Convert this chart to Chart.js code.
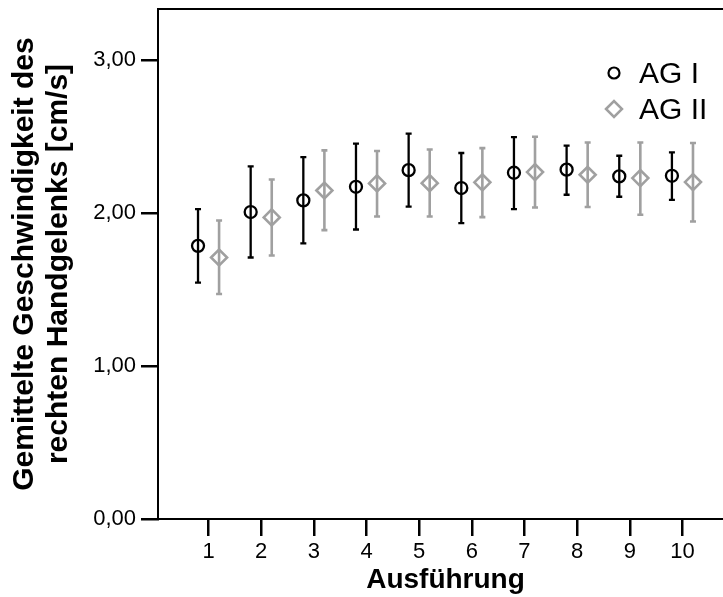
<!DOCTYPE html>
<html lang="de">
<head>
<meta charset="UTF-8">
<title>Gemittelte Geschwindigkeit des rechten Handgelenks</title>
<script src="https://cdn.jsdelivr.net/npm/chart.js"></script>
<style>
  html, body { margin: 0; padding: 0; background: #fff; overflow: hidden; }
  canvas { display: block; }
</style>
</head>
<body>
<canvas id="grafica" width="734" height="597"></canvas>
<script>
// Ausfuehrung 1..10, Mittelwert und Fehlerbalken
const ausfuehrung = [1, 2, 3, 4, 5, 6, 7, 8, 9, 10];
const xTicks = ['1', '2', '3', '4', '5', '6', '7', '8', '9', '10'];
const yTicks = ['0,00', '1,00', '2,00', '3,00'];

const ag1Mittel = [1.785, 2.006, 2.082, 2.171, 2.280, 2.163, 2.263, 2.283, 2.239, 2.243];
const ag1Unten  = [1.545, 1.709, 1.801, 1.892, 2.041, 1.934, 2.025, 2.119, 2.106, 2.086];
const ag1Oben   = [2.025, 2.304, 2.365, 2.453, 2.518, 2.392, 2.496, 2.440, 2.374, 2.396];

const ag2Mittel = [1.709, 1.971, 2.147, 2.193, 2.195, 2.200, 2.267, 2.250, 2.228, 2.202];
const ag2Unten  = [1.470, 1.722, 1.888, 1.977, 1.977, 1.973, 2.036, 2.039, 1.988, 1.944];
const ag2Oben   = [1.951, 2.219, 2.409, 2.405, 2.415, 2.424, 2.498, 2.461, 2.461, 2.457];

const schrift = 'Liberation Sans, Arial, Helvetica, sans-serif';
const grau = '#a0a0a0';

function punkte(mittel, versatz) {
  return ausfuehrung.map((a, i) => ({ x: a + versatz, y: mittel[i] }));
}

// Fehlerbalken hinter den Markern
const fehlerbalken = {
  id: 'fehlerbalken',
  beforeDatasetsDraw(chart) {
    const ctx = chart.ctx;
    const y = chart.scales.y;
    const grenzen = [[ag1Unten, ag1Oben], [ag2Unten, ag2Oben]];
    chart.data.datasets.forEach((ds, d) => {
      const meta = chart.getDatasetMeta(d);
      ctx.save();
      ctx.strokeStyle = ds.borderColor;
      ctx.lineWidth = d === 0 ? 2.3 : 2.6;
      meta.data.forEach((p, i) => {
        const yu = y.getPixelForValue(grenzen[d][0][i]);
        const yo = y.getPixelForValue(grenzen[d][1][i]);
        ctx.beginPath();
        ctx.moveTo(p.x, yu); ctx.lineTo(p.x, yo);
        ctx.moveTo(p.x - 3, yu); ctx.lineTo(p.x + 3, yu);
        ctx.moveTo(p.x - 3, yo); ctx.lineTo(p.x + 3, yo);
        ctx.stroke();
      });
      ctx.restore();
    });
  }
};

// Legende oben rechts im Diagramm
const legende = {
  id: 'legende',
  afterDatasetsDraw(chart) {
    const ctx = chart.ctx;
    const lx = 614, ly = 73, zeile = 36;
    chart.data.datasets.forEach((ds, d) => {
      const cy = ly + d * zeile;
      ctx.save();
      ctx.strokeStyle = ds.borderColor;
      ctx.lineWidth = d === 0 ? 2.2 : 2.5;
      ctx.beginPath();
      if (d === 0) {
        ctx.arc(lx, cy, 5.5, 0, Math.PI * 2);
      } else {
        ctx.moveTo(lx - 8, cy); ctx.lineTo(lx, cy - 8);
        ctx.lineTo(lx + 8, cy); ctx.lineTo(lx, cy + 8);
        ctx.closePath();
      }
      ctx.stroke();
      ctx.fillStyle = '#000';
      ctx.font = '30px ' + schrift;
      ctx.textBaseline = 'middle';
      ctx.textAlign = 'left';
      ctx.fillText(ds.label, 639, cy + 2);
      ctx.restore();
    });
  }
};

new Chart(document.getElementById('grafica'), {
  type: 'scatter',
  data: {
    datasets: [
      {
        label: 'AG I',
        data: punkte(ag1Mittel, -0.2),
        borderColor: '#000',
        backgroundColor: 'rgba(0,0,0,0)',
        pointStyle: 'circle',
        pointRadius: 6,
        pointBorderWidth: 2.3
      },
      {
        label: 'AG II',
        data: punkte(ag2Mittel, 0.2),
        borderColor: grau,
        backgroundColor: 'rgba(0,0,0,0)',
        pointStyle: 'rectRot',
        pointRadius: 8,
        pointBorderWidth: 2.6
      }
    ]
  },
  options: {
    responsive: false,
    animation: false,
    events: [],
    layout: { autoPadding: false, padding: { top: 0, right: 1, bottom: 0, left: 0 } },
    plugins: { legend: { display: false }, tooltip: { enabled: false } },
    scales: {
      x: {
        type: 'linear',
        position: 'bottom',
        min: 0.04,
        max: 10.96,
        afterFit(s) { s.height = 78; s.paddingLeft = 0; s.paddingRight = 0; },
        grid: { display: true, drawOnChartArea: false, drawTicks: true, tickLength: 17, color: '#000', lineWidth: 2.5 },
        border: { display: true, color: '#000', width: 2 },
        ticks: {
          stepSize: 1,
          includeBounds: false,
          autoSkip: false,
          maxRotation: 0,
          padding: 3,
          color: '#000',
          font: { family: schrift, size: 22 },
          callback: (v, i) => xTicks[i]
        },
        title: {
          display: true,
          text: 'Ausführung',
          color: '#000',
          padding: { top: 0, bottom: 0 },
          font: { family: schrift, size: 28, weight: 'bold', lineHeight: 1.2 }
        }
      },
      oben: {
        type: 'linear',
        position: 'top',
        min: 0.04,
        max: 10.96,
        afterFit(s) { s.height = 9; },
        grid: { display: false, drawTicks: false },
        ticks: { display: false },
        border: { display: true, color: '#000', width: 2 }
      },
      y: {
        type: 'linear',
        position: 'left',
        min: 0,
        max: 3.333,
        afterFit(s) { s.width = 158; s.paddingTop = 0; s.paddingBottom = 0; },
        grid: { display: true, drawOnChartArea: false, drawTicks: true, tickLength: 17, color: '#000', lineWidth: 2.5 },
        border: { display: true, color: '#000', width: 2 },
        ticks: {
          stepSize: 1,
          includeBounds: false,
          padding: 5,
          color: '#000',
          font: { family: schrift, size: 22 },
          callback: (v, i) => yTicks[i]
        },
        title: {
          display: true,
          text: ['Gemittelte Geschwindigkeit des', 'rechten Handgelenks [cm/s]'],
          color: '#000',
          padding: { top: 8, bottom: 0 },
          font: { family: schrift, size: 30, weight: 'bold', lineHeight: 1.13 }
        }
      }
    }
  },
  plugins: [fehlerbalken, legende]
});
</script>
</body>
</html>
